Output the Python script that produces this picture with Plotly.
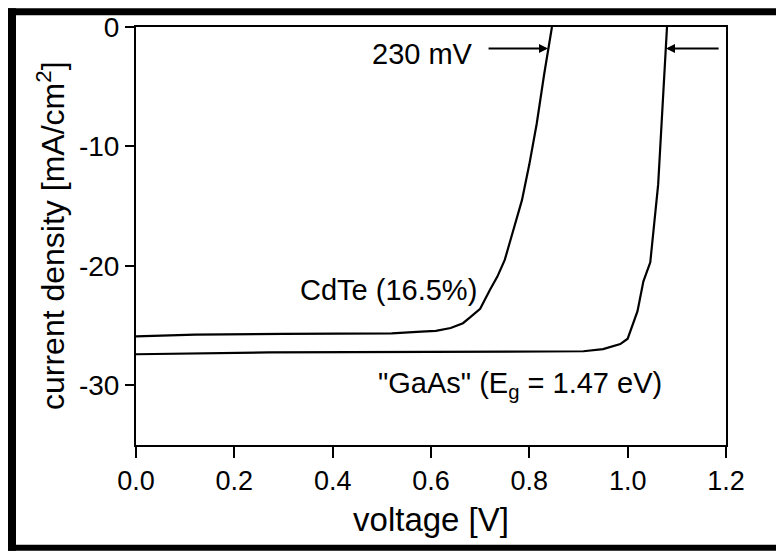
import plotly.graph_objects as go

# ---- data ----
cdte_v = [0.0, 0.12, 0.30, 0.52, 0.58, 0.61, 0.64, 0.665, 0.68, 0.70, 0.72, 0.735, 0.75, 0.765, 0.785, 0.80, 0.815, 0.83, 0.838, 0.846]
cdte_j = [-25.9, -25.75, -25.7, -25.65, -25.5, -25.45, -25.2, -24.8, -24.3, -23.6, -22.0, -20.9, -19.5, -17.4, -14.5, -11.5, -8.1, -4.0, -1.8, 0.0]

gaas_v = [0.0, 0.27, 0.60, 0.91, 0.95, 0.985, 1.0, 1.02, 1.032, 1.046, 1.062, 1.072, 1.078, 1.080]
gaas_j = [-27.4, -27.25, -27.2, -27.15, -26.97, -26.55, -26.1, -23.8, -21.3, -19.7, -13.2, -6.0, -1.8, 0.0]

x_ticks = [0.0, 0.2, 0.4, 0.6, 0.8, 1.0, 1.2]
x_tick_labels = ["0.0", "0.2", "0.4", "0.6", "0.8", "1.0", "1.2"]
y_ticks = [0, -10, -20, -30]
y_tick_labels = ["0", "-10", "-20", "-30"]

voc_arrow_j = -1.8
voc_cdte = 0.838
voc_gaas = 1.078
arrow_tail_left = 0.714
arrow_tail_right = 1.188

FONT = "Liberation Sans, Arial, sans-serif"

fig = go.Figure()
fig.add_trace(go.Scatter(x=cdte_v, y=cdte_j, mode="lines",
                         line=dict(color="black", width=2.2), showlegend=False))
fig.add_trace(go.Scatter(x=gaas_v, y=gaas_j, mode="lines",
                         line=dict(color="black", width=2.2), showlegend=False))

# outer geometry helpers
W, H = 776, 552
L, R, T, B = 136, 50, 22, 107
pw, ph = W - L - R, H - T - B
def px(x): return (x - L) / pw
def py(y): return (H - B - y) / ph

# annotations
fig.add_annotation(x=voc_cdte, y=voc_arrow_j, ax=arrow_tail_left, ay=voc_arrow_j,
                   xref="x", yref="y", axref="x", ayref="y", text="",
                   showarrow=True, arrowhead=2, arrowsize=1.0, arrowwidth=1.8, arrowcolor="black")
fig.add_annotation(x=voc_gaas, y=voc_arrow_j, ax=arrow_tail_right, ay=voc_arrow_j,
                   xref="x", yref="y", axref="x", ayref="y", text="",
                   showarrow=True, arrowhead=2, arrowsize=1.0, arrowwidth=1.8, arrowcolor="black")
fig.add_annotation(x=0.69, y=voc_arrow_j - 0.5, xref="x", yref="y", text="230 mV",
                   showarrow=False, xanchor="right", font=dict(family=FONT, size=29, color="black"))
fig.add_annotation(x=0.697, y=-22.0, xref="x", yref="y", text="CdTe (16.5%)",
                   showarrow=False, xanchor="right", font=dict(family=FONT, size=29, color="black"))
fig.add_annotation(x=1.074, y=-30.0, xref="x", yref="y",
                   text="\"GaAs\" (E<sub>g</sub> = 1.47 eV)",
                   showarrow=False, xanchor="right", font=dict(family=FONT, size=29, color="black"))
# y-axis title
fig.add_annotation(x=px(51), y=0.5, xref="paper", yref="paper",
                   text="current density [mA/cm<sup>2</sup>]", textangle=-90,
                   showarrow=False, xanchor="center", yanchor="middle",
                   font=dict(family=FONT, size=32, color="black"))

# outer black frame (left, top, bottom bands)
for (x0, y0, x1, y1) in [(8, 3, 16, 552), (8, 3, 776, 10), (8, 546, 776, 552)]:
    fig.add_shape(type="rect", xref="paper", yref="paper",
                  x0=px(x0), x1=px(x1), y0=py(y1), y1=py(y0),
                  fillcolor="black", line=dict(width=0), layer="above")

fig.update_layout(
    width=W, height=H,
    margin=dict(l=L, r=R, t=T, b=B),
    paper_bgcolor="white", plot_bgcolor="white",
    font=dict(family=FONT, color="black"),
    xaxis=dict(range=[0, 1.2], tickvals=x_ticks, ticktext=x_tick_labels,
               ticks="outside", ticklen=11, tickwidth=2, tickcolor="black",
               showline=True, linewidth=2, linecolor="black", mirror=True,
               showgrid=False, zeroline=False, tickfont=dict(size=27),
               title=dict(text="voltage [V]", font=dict(size=33), standoff=12)),
    yaxis=dict(range=[-35, 0], tickvals=y_ticks, ticktext=y_tick_labels,
               ticks="outside", ticklen=9, tickwidth=2, tickcolor="black",
               showline=True, linewidth=2, linecolor="black", mirror=True,
               showgrid=False, zeroline=False, tickfont=dict(size=28),
               ticksuffix="\u00a0"),
)

fig.write_html("out.html", config={"displayModeBar": False},
               post_script="document.body.style.margin='0';document.body.style.padding='0';")
